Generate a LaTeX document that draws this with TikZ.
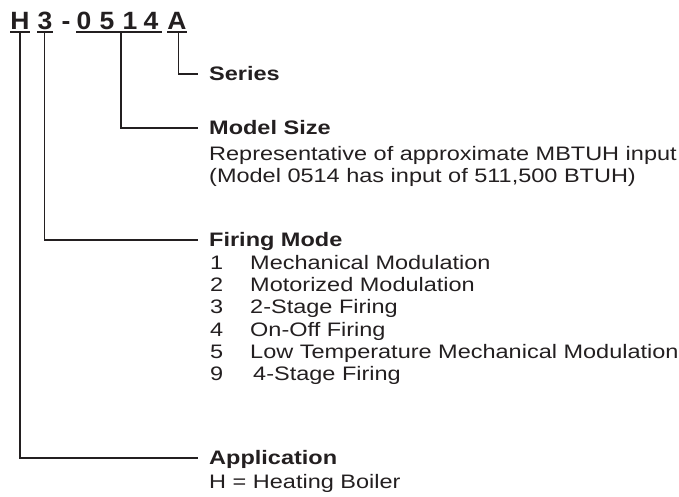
\documentclass[tikz,border=0pt]{standalone}
\usepackage{fontspec}
\setmainfont[FakeStretch=1.205]{Liberation Sans}
\newfontfamily\codefont[FakeStretch=1.06]{Liberation Sans}
\definecolor{ink}{HTML}{231F20}
\begin{document}
\begin{tikzpicture}[x=1pt,y=-1pt,
  code/.style={font=\codefont\fontsize{25}{25}\selectfont\bfseries,anchor=base,inner sep=0pt,text=ink},
  head/.style={font=\fontsize{19.5}{22}\selectfont\bfseries,anchor=base west,inner sep=0pt,text=ink},
  body/.style={font=\fontsize{19.5}{22}\selectfont,anchor=base west,inner sep=0pt,text=ink},
  uline/.style={draw=ink,line width=2pt},
  lead/.style={draw=ink,line width=1.6pt}]
\useasboundingbox (0,0) rectangle (679,497);
% code letters
\node[code] (cH) at (20,30) {H};
\node[code] (c3) at (45,30) {3};
\node[code] (cd) at (66,30) {-};
\node[code] (c0) at (84,30) {0};
\node[code] (c5) at (107,30) {5};
\node[code] (c1) at (130,30) {1};
\node[code] (c4) at (151,30) {4};
\node[code] (cA) at (177,30) {A};
% underlines
\draw[uline] ([yshift=-2.5pt]cH.base west) -- ([yshift=-2.5pt]cH.base east);
\draw[uline] ([yshift=-2.5pt]c3.base west) -- ([yshift=-2.5pt]c3.base east);
\draw[uline] ([yshift=-2.5pt]c0.base west) -- ([yshift=-2.5pt,xshift=3.5pt]c4.base east);
\draw[uline] ([yshift=-2.5pt]cA.base west) -- ([yshift=-2.5pt]cA.base east);
\coordinate (uN) at ([yshift=-2.5pt]121,30);
% labels
\node[head] (series) at (209,80.5) {Series};
\node[head] (msize) at (209,134.5) {Model Size};
\node[body] (m1) at (209,160.5) {Representative of approximate MBTUH input};
\node[body] (m2) at (209,182.5) {(Model 0514 has input of 511,500 BTUH)};
\node[head] (fmode) at (209,246.5) {Firing Mode};
\foreach \n/\t/\k/\dx in {1/Mechanical Modulation/0/0,2/Motorized Modulation/1/0,3/2-Stage Firing/2/0,4/On-Off Firing/3/0,5/Low Temperature Mechanical Modulation/4/0,9/4-Stage Firing/5/3}{
  \node[body] (fn\k) at (210,269.5+22.2*\k) {\n};
  \node[body] (ft\k) at (250+\dx,269.5+22.2*\k) {\t};
}
\node[head] (app) at (209,464.5) {Application};
\node[body] (a1) at (209,488) {H = Heating Boiler};
% leaders
\coordinate (eA) at (198,74);
\coordinate (eN) at (198,128);
\coordinate (e3) at (198,240);
\coordinate (eH) at (198,458);
\draw[lead] ([yshift=-2.5pt,xshift=1.5pt]cA.base) |- (eA);
\draw[lead] (uN) |- (eN);
\draw[lead] ([yshift=-2.5pt,xshift=-0.5pt]c3.base) |- (e3);
\draw[lead] ([yshift=-2.5pt]cH.base) |- (eH);
\end{tikzpicture}
\end{document}
